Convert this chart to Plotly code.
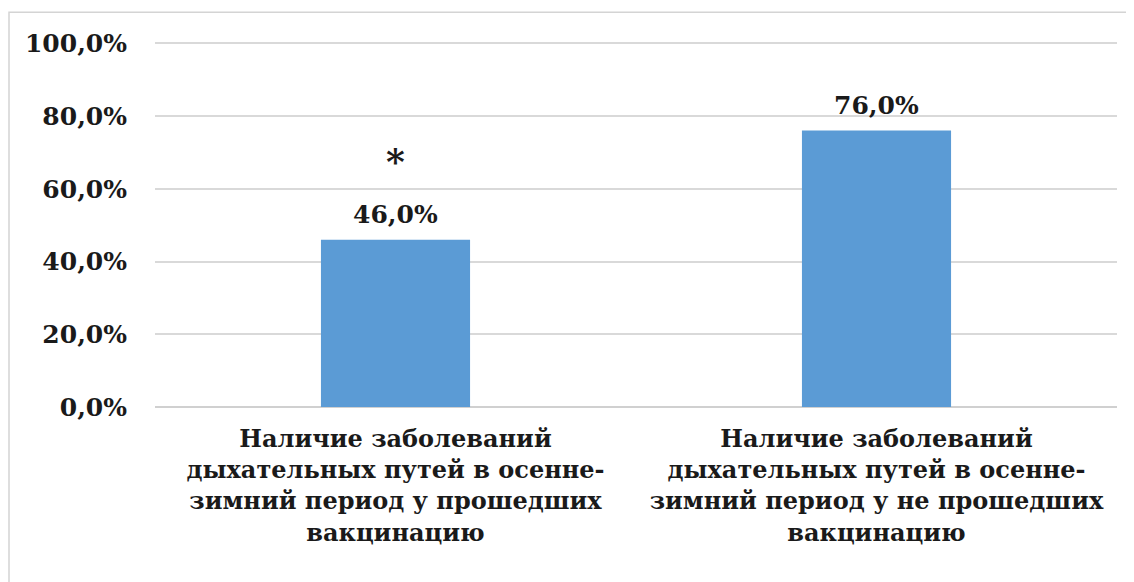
import plotly.graph_objects as go

categories = [
    "Наличие заболеваний<br>дыхательных путей в осенне-<br>зимний период у прошедших<br>вакцинацию",
    "Наличие заболеваний<br>дыхательных путей в осенне-<br>зимний период у не прошедших<br>вакцинацию",
]
values = [0.46, 0.76]
value_labels = ["46,0%", "76,0%"]
tick_vals = [0, 0.2, 0.4, 0.6, 0.8, 1.0]
tick_text = ["0,0%", "20,0%", "40,0%", "60,0%", "80,0%", "100,0%"]
marker_text = "*"
marker_value = 0.676

FONT = "DejaVu Serif"
OFF = 8  # page body margin
W, H = 1134 - OFF, 582 - OFF
YMAX = 1.02
px0, px1 = 155, 1117
py_zero, py_full = 407, 43
ph = (py_zero - py_full) * YMAX
L = px0 - OFF
R = W - (px1 - OFF)
B = H - (py_zero - OFF)
T = H - B - ph
pw = W - L - R

fig = go.Figure()
fig.add_trace(go.Bar(
    x=[0, 1], y=values,
    width=0.31,
    marker=dict(color="#5B9BD5", line=dict(width=0)),
    hoverinfo="y",
))

for i, (v, lab) in enumerate(zip(values, value_labels)):
    fig.add_annotation(x=i, y=v, xref="x", yref="y", text="<b>" + lab + "</b>",
                       showarrow=False, yanchor="bottom", yshift=9,
                       font=dict(family=FONT, size=25, color="#1a1a1a"))

fig.add_annotation(x=0, y=marker_value, xref="x", yref="y", text="<b>" + marker_text + "</b>",
                   showarrow=False, font=dict(family=FONT, size=36, color="#1a1a1a"),
                   yanchor="middle")

def fx(page_x):
    return (page_x - OFF - L) / pw

def fy(page_y):
    return (H - B - (page_y - OFF)) / ph

fig.add_shape(type="rect", xref="paper", yref="paper",
              x0=fx(9), x1=fx(1133), y0=fy(600), y1=fy(12),
              line=dict(color="#d4d4d4", width=1.5), fillcolor="rgba(0,0,0,0)", layer="below")

fig.update_layout(
    width=W, height=H,
    margin=dict(l=L, r=R, t=T, b=B, pad=0, autoexpand=False),
    paper_bgcolor="white", plot_bgcolor="white",
    showlegend=False,
    font=dict(family=FONT, color="#1a1a1a"),
    xaxis=dict(
        tickmode="array", tickvals=[0, 1], ticktext=["<b>" + c.replace("<br>", "</b><br><b>") + "</b>" for c in categories],
        range=[-0.5, 1.5], showgrid=False, zeroline=False, showline=False,
        ticks="", tickfont=dict(family=FONT, size=24, color="#1a1a1a"),
        ticklabelstandoff=15, automargin=False,
    ),
    yaxis=dict(
        range=[0, YMAX], tickmode="array", tickvals=tick_vals,
        ticktext=["<b>" + t + "</b>" for t in tick_text],
        showgrid=True, gridcolor="#d9d9d9", gridwidth=1.5,
        zeroline=True, zerolinecolor="#d0d0d0", zerolinewidth=1.5,
        showline=False, ticks="",
        tickfont=dict(family=FONT, size=25, color="#1a1a1a"),
        ticklabelstandoff=27, automargin=False,
    ),
)

fig.write_html("out.html")
